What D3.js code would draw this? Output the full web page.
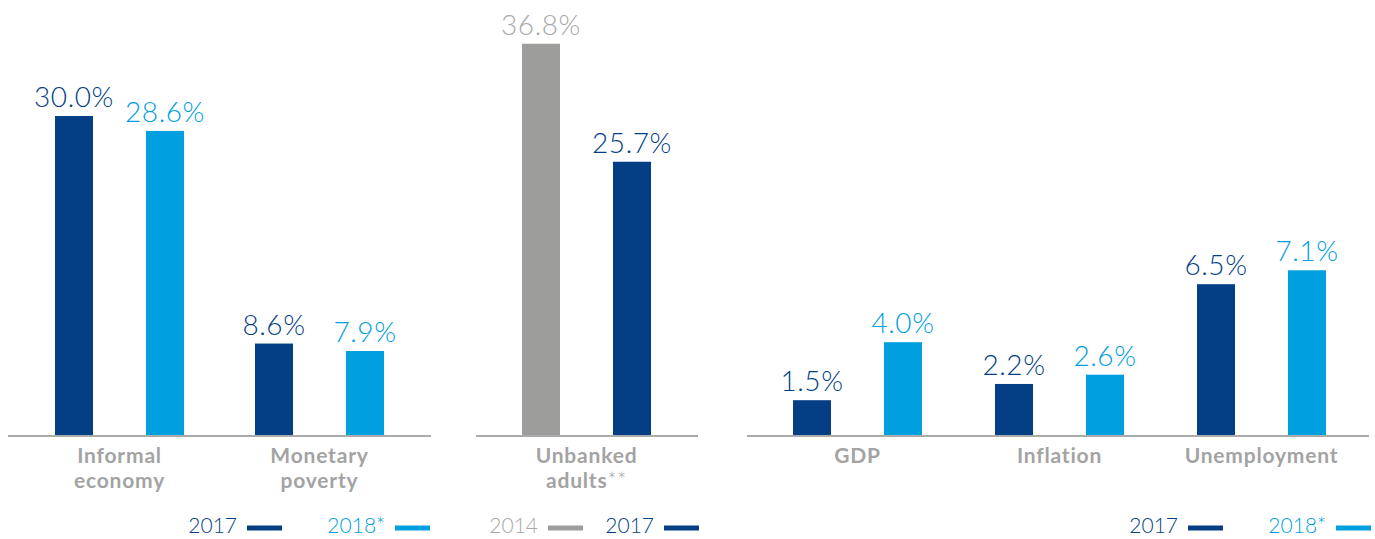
<!DOCTYPE html>
<html>
<head>
<meta charset="utf-8">
<script src="https://cdn.jsdelivr.net/npm/d3@7"></script>
<style>
  html, body { margin: 0; padding: 0; background: #fff; }
  svg { display: block; }
  .val { font-family: Lato, "Open Sans", sans-serif; font-weight: 300; font-size: 28px; letter-spacing: 0.6px; }
  .cat { font-family: Lato, "Open Sans", sans-serif; font-weight: 700; font-size: 21px; letter-spacing: 0.8px; fill: #a3a3a3; }
  .leg { font-family: Lato, "Open Sans", sans-serif; font-weight: 300; font-size: 21px; }
</style>
</head>
<body>
<svg id="chart" width="1375" height="539"></svg>
<script>
// Social indicators
const socialCategories = ["Informal economy", "Monetary poverty"];
const socialSeries = ["2017", "2018*"];
const socialValues2017 = [30.0, 8.6];
const socialValues2018 = [28.6, 7.9];

// Financial inclusion
const bankCategories = ["Unbanked adults**"];
const bankSeries = ["2014", "2017"];
const bankValues2014 = [36.8];
const bankValues2017 = [25.7];

// Macro indicators
const macroCategories = ["GDP", "Inflation", "Unemployment"];
const macroSeries = ["2017", "2018*"];
const macroValues2017 = [1.5, 2.2, 6.5];
const macroValues2018 = [4.0, 2.6, 7.1];

const categoryLines = {
  "Informal economy": ["Informal", "economy"],
  "Monetary poverty": ["Monetary", "poverty"],
  "Unbanked adults**": ["Unbanked", "adults**"],
  "GDP": ["GDP"],
  "Inflation": ["Inflation"],
  "Unemployment": ["Unemployment"]
};

const colors = {
  "2014": "#9d9d9c",
  "2017": "#043f85",
  "2018*": "#009fdf"
};
const labelColors = {
  "2014": "#a8a8a8",
  "2017": "#043f85",
  "2018*": "#009fdf"
};

const svg = d3.select("#chart");
const baseY = 435;
const barW = 38;

// Share panels (left, middle) use one scale; macro panel its own
const yShare = d3.scaleLinear().domain([0, 40]).range([baseY, baseY - 425.3]);
const yMacro = d3.scaleLinear().domain([0, 10]).range([baseY, baseY - 232]);

function panel(cfg) {
  const g = svg.append("g");
  const x = d3.scaleBand().domain(cfg.categories).range(cfg.range).padding(0);
  const inner = d3.scalePoint().domain(cfg.series).range([-45.5, 45.5]);
  const y = cfg.y;

  const rows = [];
  cfg.categories.forEach((c, i) => {
    cfg.series.forEach((s, j) => {
      rows.push({ cat: c, series: s, value: cfg.values[j][i] });
    });
  });

  // baseline
  g.append("line")
    .attr("x1", cfg.axis[0]).attr("x2", cfg.axis[1])
    .attr("y1", baseY + 1).attr("y2", baseY + 1)
    .attr("stroke", "#ababab").attr("stroke-width", 2);

  const cx = d => x(d.cat) + x.bandwidth() / 2 + inner(d.series);

  g.selectAll("rect.bar").data(rows).join("rect")
    .attr("class", "bar")
    .attr("x", d => cx(d) - barW / 2)
    .attr("width", barW)
    .attr("y", d => y(d.value))
    .attr("height", d => y(0) - y(d.value))
    .attr("fill", d => colors[d.series]);

  g.selectAll("text.val").data(rows).join("text")
    .attr("class", "val")
    .attr("x", d => cx(d))
    .attr("y", d => y(d.value) - 9)
    .attr("text-anchor", "middle")
    .attr("fill", d => labelColors[d.series])
    .text(d => d3.format(".1f")(d.value) + "%");

  // category labels
  cfg.categories.forEach(c => {
    const t = g.append("text").attr("class", "cat")
      .attr("x", x(c) + x.bandwidth() / 2)
      .attr("y", 463)
      .attr("text-anchor", "middle");
    categoryLines[c].forEach((line, k) => {
      const m = line.match(/^([^*]*)(\**)$/);
      const ts = t.append("tspan").attr("x", x(c) + x.bandwidth() / 2).attr("dy", k === 0 ? 0 : 25);
      ts.text(m[1]);
      if (m[2]) t.append("tspan").attr("font-weight", 300).text(m[2]);
    });
  });

  // legend
  const lg = g.append("g");
  cfg.legend.forEach(item => {
    lg.append("text").attr("class", "leg")
      .attr("x", item.x).attr("y", 533)
      .attr("text-anchor", "end")
      .attr("fill", labelColors[item.series])
      .text(item.series);
    lg.append("rect")
      .attr("x", item.x + 10).attr("y", 525.5)
      .attr("width", 35).attr("height", 5)
      .attr("fill", colors[item.series]);
  });
}

panel({
  categories: socialCategories,
  series: socialSeries,
  values: [socialValues2017, socialValues2018],
  range: [19.5, 419.5],
  axis: [8, 431],
  y: yShare,
  legend: [{ series: "2017", x: 237 }, { series: "2018*", x: 385 }]
});

panel({
  categories: bankCategories,
  series: bankSeries,
  values: [bankValues2014, bankValues2017],
  range: [486.5, 686.5],
  axis: [476, 698],
  y: yShare,
  legend: [{ series: "2014", x: 538 }, { series: "2017", x: 654 }]
});

panel({
  categories: macroCategories,
  series: macroSeries,
  values: [macroValues2017, macroValues2018],
  range: [756.5, 1362.5],
  axis: [747, 1369],
  y: yMacro,
  legend: [{ series: "2017", x: 1178 }, { series: "2018*", x: 1326 }]
});
</script>
</body>
</html>
